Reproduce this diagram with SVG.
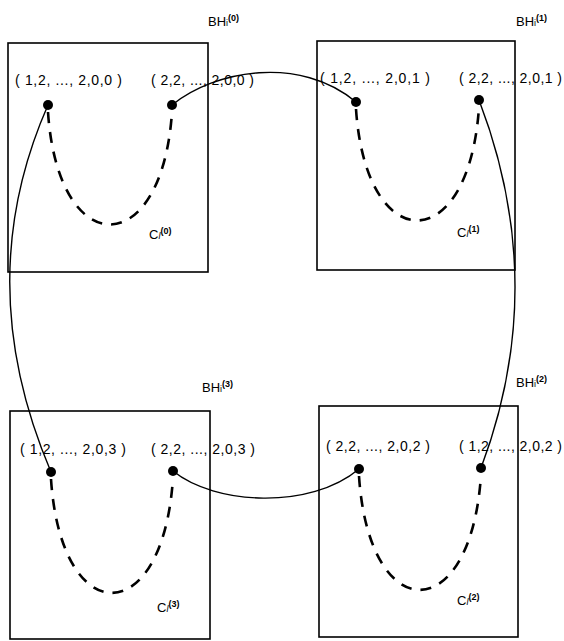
<svg xmlns="http://www.w3.org/2000/svg" width="564" height="641" viewBox="0 0 564 641">
<style>
.box{fill:none;stroke:#000;stroke-width:1.6}
.lbl{font-family:"Liberation Sans",Arial,sans-serif;font-size:14px;fill:#000}
.bh{font-family:"Liberation Sans",Arial,sans-serif;font-size:13px;fill:#000}
.sub{font-size:9px}
.sup{font-size:9px;font-weight:bold}
.dash{fill:none;stroke:#000;stroke-width:2.6;stroke-dasharray:11 9}
.conn{fill:none;stroke:#000;stroke-width:1.4}
.dot{fill:#000}
</style>
<rect width="564" height="641" fill="#fff"/>
<g id="node-0">
<rect class="box" x="8" y="43" width="200" height="229"/>
<text class="bh" x="208" y="26">BH<tspan class="sub">i</tspan><tspan class="sup" dy="-5">(0)</tspan></text>
<text class="lbl" x="15" y="85" textLength="107" lengthAdjust="spacing">( 1,2, ..., 2,0,0 )</text>
<text class="lbl" x="151" y="85" textLength="103" lengthAdjust="spacing">( 2,2, ..., 2,0,0 )</text>
<path class="dash" d="M48,112 C58,262 162,262 172,112"/>
<circle class="dot" cx="48" cy="105" r="5"/>
<circle class="dot" cx="172" cy="105" r="5"/>
<text class="bh" x="149" y="239">C<tspan class="sub" font-style="italic">l</tspan><tspan class="sup" dy="-5">(0)</tspan></text>
</g>
<g id="node-1">
<rect class="box" x="317" y="41" width="198" height="229"/>
<text class="bh" x="516" y="26">BH<tspan class="sub">i</tspan><tspan class="sup" dy="-5">(1)</tspan></text>
<text class="lbl" x="320" y="83" textLength="110" lengthAdjust="spacing">( 1,2, ..., 2,0,1 )</text>
<text class="lbl" x="459" y="83" textLength="103" lengthAdjust="spacing">( 2,2, ..., 2,0,1 )</text>
<path class="dash" d="M356,109 C366,258 469,258 479,107"/>
<circle class="dot" cx="356" cy="102" r="5"/>
<circle class="dot" cx="479" cy="100" r="5"/>
<text class="bh" x="457" y="237">C<tspan class="sub" font-style="italic">l</tspan><tspan class="sup" dy="-5">(1)</tspan></text>
</g>
<g id="node-2">
<rect class="box" x="319" y="406" width="199" height="231"/>
<text class="bh" x="516" y="387">BH<tspan class="sub">i</tspan><tspan class="sup" dy="-5">(2)</tspan></text>
<text class="lbl" x="326" y="451" textLength="104" lengthAdjust="spacing">( 2,2, ..., 2,0,2 )</text>
<text class="lbl" x="459" y="451" textLength="103" lengthAdjust="spacing">( 1,2, ..., 2,0,2 )</text>
<path class="dash" d="M359,476 C369,628 471,628 481,475"/>
<circle class="dot" cx="359" cy="469" r="5"/>
<circle class="dot" cx="481" cy="468" r="5"/>
<text class="bh" x="457" y="605">C<tspan class="sub" font-style="italic">l</tspan><tspan class="sup" dy="-5">(2)</tspan></text>
</g>
<g id="node-3">
<rect class="box" x="10" y="411" width="200" height="228"/>
<text class="bh" x="202" y="392">BH<tspan class="sub">i</tspan><tspan class="sup" dy="-5">(3)</tspan></text>
<text class="lbl" x="20" y="454" textLength="106" lengthAdjust="spacing">( 1,2, ..., 2,0,3 )</text>
<text class="lbl" x="151" y="454" textLength="104" lengthAdjust="spacing">( 2,2, ..., 2,0,3 )</text>
<path class="dash" d="M51,479 C61,631 163,631 173,478"/>
<circle class="dot" cx="51" cy="472" r="5"/>
<circle class="dot" cx="173" cy="471" r="5"/>
<text class="bh" x="157" y="612">C<tspan class="sub" font-style="italic">l</tspan><tspan class="sup" dy="-5">(3)</tspan></text>
</g>
<g id="connectors">
<path class="conn" d="M172,105 C215,70 300,55 356,102"/>
<path class="conn" d="M479,100 Q550,285 481,468"/>
<path class="conn" d="M48,105 Q-30,282 51,472"/>
<path class="conn" d="M173,471 C215,505 310,510 359,469"/>
</g>
</svg>
